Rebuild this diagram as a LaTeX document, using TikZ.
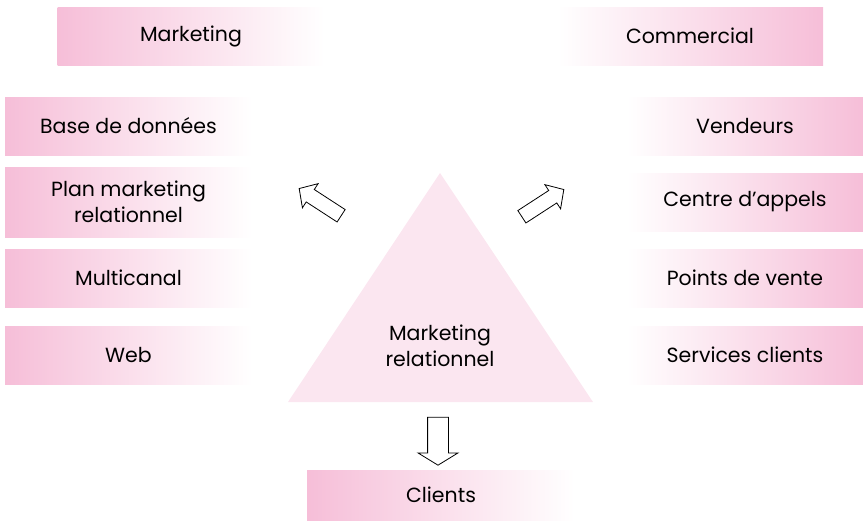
\documentclass[tikz,border=0pt]{standalone}
\usepackage{fontspec}
\setmainfont{Poppins}
\usepackage{tikz}
\usetikzlibrary{shapes.arrows}

\definecolor{pinkbox}{RGB}{246,190,216}
\definecolor{pinktri}{RGB}{251,230,240}

\tikzset{
  leftbox/.style={left color=pinkbox, right color=white, minimum width=247pt, minimum height=58pt, inner sep=0pt, align=center},
  rightbox/.style={left color=white, right color=pinkbox, minimum width=236pt, minimum height=58pt, inner sep=0pt, align=center},
  blockarrow/.style={single arrow, draw=black, fill=white, line width=0.8pt, inner xsep=0pt, single arrow head indent=0pt}
}

\begin{document}
\begin{tikzpicture}[x=1pt, y=-1pt, font=\fontsize{20.5}{26}\selectfont]
\useasboundingbox (0,0) rectangle (863,522);

% Triangle
\fill[pinktri] (440,173) -- (593,402) -- (288,402) -- cycle;
\node (mr) at (440,346) [align=center] {Marketing\\relationnel};

% Top boxes
\node[leftbox, minimum width=267pt] (marketing) at (191,36) {Marketing};
\node[leftbox, minimum width=266pt, left color=white, right color=pinkbox] (commercial) at (690,36) {Commercial};

% Left column
\node[leftbox] (base) at (128.5,126) {Base de données};
\node[leftbox, minimum height=70pt] (plan) at (128.5,202) {Plan marketing\\relationnel};
\node[leftbox] (multi) at (128.5,278) {Multicanal};
\node[leftbox] (web) at (128.5,355) {Web};

% Right column
\node[rightbox] (vendeurs) at (745,126) {Vendeurs};
\node[rightbox] (appels) at (745,202) {Centre d’appels};
\node[rightbox] (points) at (745,278) {Points de vente};
\node[rightbox] (services) at (745,355) {Services clients};

% Bottom box
\node[leftbox, minimum width=268pt, minimum height=50pt] (clients) at (441,495) {Clients};

% Arrows
\node[blockarrow, rotate=147, minimum height=50pt, inner ysep=7pt, single arrow head extend=7pt, single arrow tip angle=95] (upleft) at (323,204) {};
\node[blockarrow, rotate=33, minimum height=50pt, inner ysep=7pt, single arrow head extend=7pt, single arrow tip angle=95] (upright) at (540,205) {};
\node[blockarrow, rotate=-90, minimum height=48pt, inner ysep=10pt, single arrow head extend=9.5pt, single arrow tip angle=117] (down) at (438,438) {};
\end{tikzpicture}
\end{document}
